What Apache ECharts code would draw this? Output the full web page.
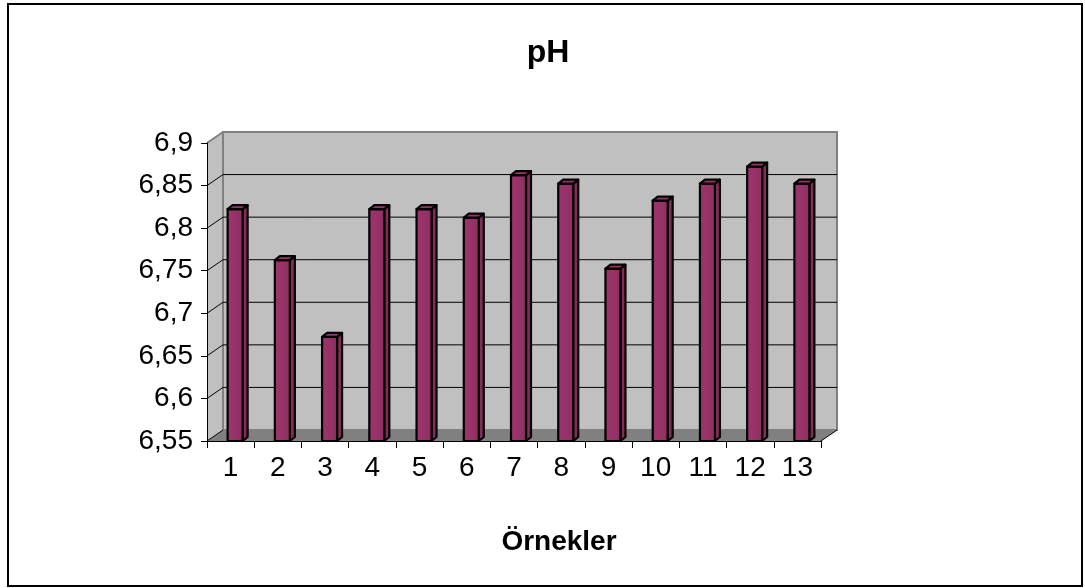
<!DOCTYPE html>
<html>
<head>
<meta charset="utf-8">
<title>pH</title>
<script src="https://cdn.jsdelivr.net/npm/echarts@6/dist/echarts.min.js"></script>
<style>
  html, body { margin: 0; padding: 0; background: #ffffff; }
  #chart { width: 1085px; height: 588px; }
</style>
</head>
<body>
<div id="chart"></div>
<script>
// Sample numbers along the category axis
const categories = ['1', '2', '3', '4', '5', '6', '7', '8', '9', '10', '11', '12', '13'];
// Measured pH per sample
const phValues = [6.82, 6.76, 6.67, 6.82, 6.82, 6.81, 6.86, 6.85, 6.75, 6.83, 6.85, 6.87, 6.85];
// Value axis range and tick step
const yMin = 6.55;
const yMax = 6.9;
const yStep = 0.05;
// Tick values for the back-wall gridlines
const gridValues = [6.6, 6.65, 6.7, 6.75, 6.8, 6.85];

const FONT = "'Liberation Sans', Arial, sans-serif";
// Depth of the pseudo-3D plot box
const DX = 16, DY = -11;

const chart = echarts.init(document.getElementById('chart'), null, { renderer: 'canvas' });

function renderWalls(params, api) {
  const cs = params.coordSys;
  const gx = cs.x, gy = cs.y, gw = cs.width, gb = cs.y + cs.height;
  const children = [];
  // left side wall
  children.push({
    type: 'polygon',
    shape: { points: [[gx, gy], [gx + DX, gy + DY], [gx + DX, gb + DY], [gx, gb]] },
    style: { fill: '#c0c0c0' }
  });
  // back wall
  children.push({
    type: 'rect',
    shape: { x: gx + DX, y: gy + DY, width: gw, height: cs.height },
    style: { fill: '#c0c0c0', stroke: '#808080', lineWidth: 2 }
  });
  // top edge of side wall
  children.push({
    type: 'line',
    shape: { x1: gx, y1: gy, x2: gx + DX, y2: gy + DY },
    style: { stroke: '#808080', lineWidth: 2 }
  });
  // gridlines on the back wall and their diagonals on the side wall
  gridValues.forEach(function (v) {
    const y = api.coord([0, v])[1];
    children.push({
      type: 'line',
      shape: { x1: gx + DX, y1: y + DY, x2: gx + DX + gw, y2: y + DY },
      style: { stroke: '#000000', lineWidth: 1 }
    });
    children.push({
      type: 'line',
      shape: { x1: gx, y1: y, x2: gx + DX, y2: y + DY },
      style: { stroke: '#000000', lineWidth: 1 }
    });
  });
  // floor
  children.push({
    type: 'polygon',
    shape: { points: [[gx, gb], [gx + DX, gb + DY], [gx + gw + DX, gb + DY], [gx + gw, gb]] },
    style: { fill: '#808080' }
  });
  children.push({
    type: 'line',
    shape: { x1: gx + gw, y1: gb, x2: gx + gw + DX, y2: gb + DY },
    style: { stroke: '#000000', lineWidth: 1 }
  });
  children.push({
    type: 'line',
    shape: { x1: gx, y1: gb, x2: gx + DX, y2: gb + DY },
    style: { stroke: '#000000', lineWidth: 1 }
  });
  return { type: 'group', children: children };
}

function renderBar(params, api) {
  const idx = api.value(0);
  const val = api.value(1);
  const top = api.coord([idx, val]);
  const base = api.coord([idx, yMin]);
  const x0 = top[0] - 3;
  const x1 = top[0] + 12;
  const yt = top[1] - 2;
  const yb = base[1];
  const sx = 5, sy = -4;
  const stroke = { stroke: '#000000', lineWidth: 2.2, lineJoin: 'round' };
  return {
    type: 'group',
    children: [
      {
        type: 'polygon',
        shape: { points: [[x1, yt], [x1 + sx, yt + sy], [x1 + sx, yb + sy], [x1, yb]] },
        style: Object.assign({ fill: '#862c58' }, stroke)
      },
      {
        type: 'rect',
        shape: { x: x0, y: yt, width: x1 - x0, height: yb - yt },
        style: Object.assign({
          fill: new echarts.graphic.LinearGradient(0, 0, 1, 0, [
            { offset: 0, color: '#9c3468' },
            { offset: 0.4, color: '#99336a' },
            { offset: 1, color: '#8d2f5e' }
          ])
        }, stroke)
      },
      {
        type: 'polygon',
        shape: { points: [[x0, yt], [x1, yt], [x1 + sx, yt + sy], [x0 + sx, yt + sy]] },
        style: Object.assign({ fill: '#993366' }, stroke)
      }
    ]
  };
}

const barData = phValues.map(function (v, i) { return [i, v]; });

const option = {
  animation: false,
  backgroundColor: '#ffffff',
  grid: { left: 207, top: 143, width: 614, height: 298, containLabel: false },
  xAxis: {
    type: 'category',
    data: categories,
    boundaryGap: true,
    axisLine: { show: true, lineStyle: { color: '#000000', width: 1 } },
    axisTick: { show: true, inside: false, length: 7, lineStyle: { color: '#000000' } },
    axisLabel: { color: '#000000', fontSize: 28, fontFamily: FONT, margin: 13 },
    splitLine: { show: false }
  },
  yAxis: {
    type: 'value',
    min: yMin,
    max: yMax,
    interval: yStep,
    axisLine: { show: true, lineStyle: { color: '#000000', width: 1 } },
    axisTick: { show: true, inside: false, length: 6, lineStyle: { color: '#000000' } },
    axisLabel: {
      color: '#000000', fontSize: 28, fontFamily: FONT, margin: 14,
      formatter: function (v) { return String(Math.round(v * 100) / 100).replace('.', ','); }
    },
    splitLine: { show: false }
  },
  series: [
    {
      type: 'custom',
      z: -5,
      silent: true,
      renderItem: renderWalls,
      data: [[0, yMin]]
    },
    {
      type: 'custom',
      z: 5,
      renderItem: renderBar,
      encode: { x: 0, y: 1 },
      data: barData
    }
  ],
  graphic: [
    {
      type: 'rect',
      shape: { x: 8, y: 4, width: 1074, height: 582 },
      style: { fill: 'none', stroke: '#000000', lineWidth: 2 },
      silent: true
    },
    {
      type: 'text',
      x: 548, y: 53,
      style: {
        text: 'pH', fill: '#000000', font: 'bold 32px ' + FONT,
        textAlign: 'center', textVerticalAlign: 'middle'
      }
    },
    {
      type: 'text',
      x: 559, y: 542,
      style: {
        text: 'Örnekler', fill: '#000000', font: 'bold 28px ' + FONT,
        textAlign: 'center', textVerticalAlign: 'middle'
      }
    }
  ]
};

chart.setOption(option);
</script>
</body>
</html>
